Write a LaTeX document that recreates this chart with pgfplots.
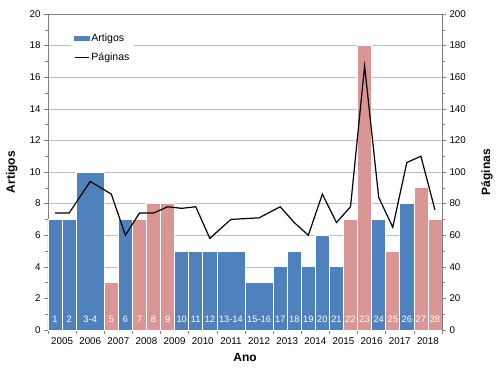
\documentclass[border=0pt]{standalone}
\usepackage{pgfplots}
\pgfplotsset{compat=1.18}
\usepackage{fontspec}
\setmainfont{Liberation Sans}
\definecolor{barblue}{HTML}{4F81BD}
\definecolor{barpink}{HTML}{D99694}
\definecolor{axgray}{HTML}{808080}
\definecolor{gridgray}{HTML}{C0C0C0}

\pgfplotstableread{
x y
0.5 7
1.5 7
5.5 7
9.5 5
10.5 5
11.5 5
16.5 4
17.5 5
18.5 4
19.5 6
20.5 4
23.5 7
25.5 8
}\blueone
\pgfplotstableread{
x y
3 10
13 5
15 3
}\bluetwo
\pgfplotstableread{
x y
4.5 3
6.5 7
7.5 8
8.5 8
21.5 7
22.5 18
24.5 5
26.5 9
27.5 7
}\pinkone
\pgfplotstableread{
x y label
0.5 0.65 1
1.5 0.65 2
3 0.65 3-4
4.5 0.65 5
5.5 0.65 6
6.5 0.65 7
7.5 0.65 8
8.5 0.65 9
9.5 0.65 10
10.5 0.65 11
11.5 0.65 12
13 0.65 13-14
15 0.65 15-16
16.5 0.65 17
17.5 0.65 18
18.5 0.65 19
19.5 0.65 20
20.5 0.65 21
21.5 0.65 22
22.5 0.65 23
23.5 0.65 24
24.5 0.65 25
25.5 0.65 26
26.5 0.65 27
27.5 0.65 28
}\labels
\pgfplotstableread{
x y
0.5 74
1.5 74
3 94
4.5 86
5.5 60
6.5 74
7.5 74
8.5 78
9.5 77
10.5 78
11.5 58
13 70
15 71
16.5 78
17.5 68
18.5 60
19.5 86
20.5 68
21.5 78
22.5 167
23.5 84
24.5 65
25.5 106
26.5 110
27.5 76
}\paginas

\begin{document}
\begin{tikzpicture}
\useasboundingbox (-48pt,-38pt) rectangle (452pt,330pt);
\pgfplotsset{
  every axis/.append style={
    scale only axis, width=394pt, height=316pt,
    at={(0,0)}, anchor=south west,
    xmin=0, xmax=28,
    tick label style={font=\fontsize{9.8}{11}\selectfont, text=black},
    label style={font=\bfseries\fontsize{12}{14}\selectfont},
    /pgf/number format/assume math mode=true,
    tick align=outside,
    major tick length=4pt, minor tick length=3pt,
    every tick/.style={axgray, line width=0.6pt},
    axis line style={axgray, line width=0.8pt},
  }
}
\begin{axis}[
  axis x line*=bottom, axis y line*=left,
  ymin=0, ymax=20,
  ytick={0,2,...,20}, minor y tick num=1,
  xtick={0,2,...,28},
  xticklabels={2005,2006,2007,2008,2009,2010,2011,2012,2013,2014,2015,2016,2017,2018},
  x tick label as interval,
  ymajorgrids, grid style={gridgray, line width=0.6pt},
  ylabel={Artigos}, xlabel={Ano},
  ylabel style={at={(axis description cs:-0.092,0.5)}, anchor=center},
  xlabel style={at={(axis description cs:0.5,-0.087)}, anchor=center},
  x axis line style={black, line width=0.8pt},
]
\addplot[ybar, bar shift=0pt, bar width=1, fill=barblue, draw=white, line width=0.7pt] table[x=x,y=y] {\blueone};
\addplot[ybar, bar shift=0pt, bar width=2, fill=barblue, draw=white, line width=0.7pt] table[x=x,y=y] {\bluetwo};
\addplot[ybar, bar shift=0pt, bar width=1, fill=barpink, draw=white, line width=0.7pt] table[x=x,y=y] {\pinkone};
\addplot[only marks, mark=none, nodes near coords, point meta=explicit symbolic,
  nodes near coords style={anchor=center, text=white, font=\fontsize{9.3}{10}\selectfont, inner sep=0pt}]
  table[x=x,y=y,meta=label] {\labels};
\draw[axgray, line width=0.8pt] (axis cs:0,20) -- (axis cs:28,20);
\end{axis}
\begin{axis}[
  axis x line=none, axis y line*=right,
  ymin=0, ymax=200,
  ytick={0,20,...,200}, minor y tick num=1,
  ylabel={Páginas},
  ylabel style={at={(axis description cs:1.114,0.5)}, anchor=center},
  legend style={at={(0.058,0.955)}, anchor=north west, draw=none, fill=white,
    font=\fontsize{10.5}{12}\selectfont, row sep=6pt, inner sep=3pt},
  legend cell align=left,
  legend image code/.code={\draw[#1] (0cm,0cm) -- (0.5cm,0cm);},
]
\addlegendimage{legend image code/.code={\fill[barblue] (0cm,-0.08cm) rectangle (0.5cm,0.08cm);}}
\addlegendentry{Artigos}
\addplot[black, line width=1.2pt, mark=none] table[x=x,y=y] {\paginas};
\addlegendentry{Páginas}
\end{axis}
\end{tikzpicture}
\end{document}
